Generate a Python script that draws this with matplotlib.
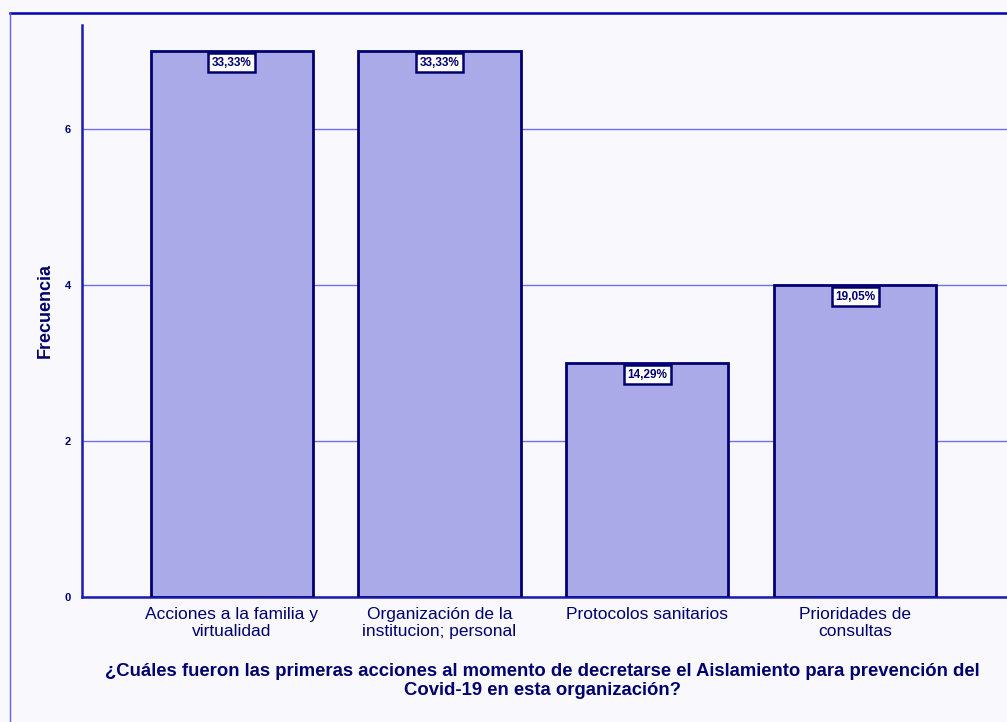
import matplotlib
matplotlib.use("Agg")
import matplotlib.pyplot as plt
from matplotlib.lines import Line2D

categories = [
    "Acciones a la familia y\nvirtualidad",
    "Organización de la\ninstitucion; personal",
    "Protocolos sanitarios",
    "Prioridades de\nconsultas",
]
counts = [7, 7, 3, 4]
yticks = [0, 2, 4, 6]
title = ("¿Cuáles fueron las primeras acciones al momento de decretarse el Aislamiento para prevención del\n"
         "Covid-19 en esta organización?")

navy = "#00006e"
blue = "#1a1ab4"
fill = "#abaae8"
grid = "#7070e0"
bg = "#f9f9fd"

plt.rcParams["font.family"] = ["Liberation Sans", "DejaVu Sans"]

W, H = 1007, 722
fig = plt.figure(figsize=(W / 100, H / 100), dpi=100)
fig.patch.set_facecolor(bg)

# outer frame (top and left edge)
fig.add_artist(Line2D([10 / W, 1], [1 - 13 / H, 1 - 13 / H], color="#0000b0", lw=1.8))
fig.add_artist(Line2D([10 / W, 10 / W], [0, 1 - 13 / H], color="#6060e0", lw=1.0))

ax = fig.add_axes([82 / W, (H - 597) / H, 1 - 82 / W, (597 - 25) / H])
ax.set_facecolor(bg)

total = sum(counts)
x = list(range(len(categories)))
ax.bar(x, counts, width=0.78, color=fill, edgecolor=navy, linewidth=2.0, zorder=3)

# percentage of total, boxed just inside the top of each bar
for xi, c in zip(x, counts):
    pct = f"{100 * c / total:.2f}%".replace(".", ",")
    ax.annotate(pct, (xi, c), xytext=(0, -8.5), textcoords="offset points",
                ha="center", va="center", fontsize=8.5, fontweight="bold", color=navy,
                bbox=dict(boxstyle="square,pad=0.3", fc="white", ec=navy, lw=1.8),
                zorder=5)

ax.set_xlim(-0.72, 3.73)
ax.set_ylim(0, 7.33)
ax.set_yticks(yticks)
ax.set_yticklabels([str(t) for t in yticks], fontsize=8, fontweight="bold", color=navy)
ax.set_xticks(x)
ax.set_xticklabels(categories, fontsize=12.5, color=navy, linespacing=1.2)
ax.tick_params(axis="both", length=0)
ax.tick_params(axis="y", pad=8)
ax.tick_params(axis="x", pad=7)

ax.grid(axis="y", color=grid, lw=1.0, zorder=0)
for side in ["top", "right"]:
    ax.spines[side].set_visible(False)
for side in ["left", "bottom"]:
    ax.spines[side].set_color(blue)
    ax.spines[side].set_linewidth(1.8)

ax.set_ylabel("Frecuencia", fontsize=13, fontweight="bold", color=navy, labelpad=8)

fig.text(542 / W, 1 - 681 / H, title, ha="center", va="center", fontsize=13.3,
         fontweight="bold", color=navy, linespacing=1.1)

fig.savefig("out.png", dpi=100, facecolor=fig.get_facecolor())
